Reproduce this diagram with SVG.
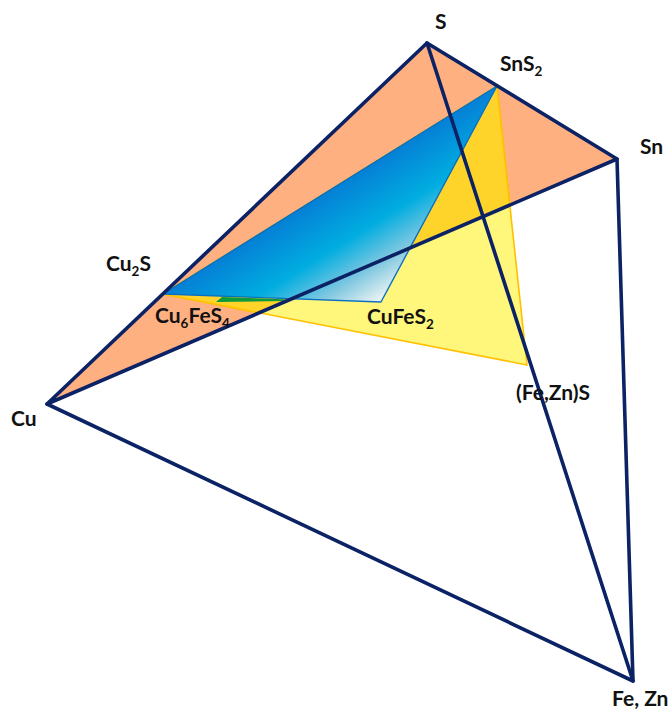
<svg xmlns="http://www.w3.org/2000/svg" width="671" height="710" viewBox="0 0 671 710">
<style>
.t{font-family:Lato,"Liberation Sans",sans-serif;font-weight:700;font-size:21px;fill:#111}
.s{font-size:13.500px}
.e{fill:none;stroke:#0b2265;stroke-width:3.6;stroke-linejoin:round;stroke-linecap:round}
</style>
<defs>
<linearGradient id="b" gradientUnits="userSpaceOnUse" x1="300" y1="209" x2="365" y2="313">
<stop offset="0" stop-color="#0580d6"/><stop offset="0.42" stop-color="#00ade0"/><stop offset="0.72" stop-color="#80c8e0"/><stop offset="1" stop-color="#f5f7f4"/>
</linearGradient>
<clipPath id="o"><polygon points="427,43 617,159 47,404"/></clipPath>
</defs>
<rect width="671" height="710" fill="#fff"/>
<g id="face-orange"><polygon points="427,43 617,159 47,404" fill="#ffb081"/></g>
<g id="face-yellow">
<polygon points="163,294 497,86 527,365" fill="#fff67c" stroke="#ffc000" stroke-width="1.6"/>
<polygon points="163,294 497,86 527,365" fill="#ffd42a" stroke="#ffc000" stroke-width="1.6" clip-path="url(#o)"/>
</g>
<g id="face-blue"><polygon points="163,294 497,86 381,302" fill="url(#b)" stroke="#0b6fc0" stroke-width="1.4" stroke-linejoin="round"/></g>
<g id="face-green"><polygon points="216,302 222,297 289,299.500 287,301" fill="#0c9a3c"/></g>
<g id="connectors">
<path class="e" d="M427,43 L617,159 L47,404 Z"/>
<path class="e" d="M47,404 L633,681 L617,159"/>
<path class="e" d="M427,43 L633,681"/>
</g>
<g id="label-S"><text class="t" x="435" y="29">S</text></g>
<g id="label-SnS2"><text class="t" x="500" y="71">SnS<tspan class="s" dy="5">2</tspan></text></g>
<g id="label-Sn"><text class="t" x="640" y="154">Sn</text></g>
<g id="label-Cu2S"><text class="t" x="106" y="271">Cu<tspan class="s" dy="5">2</tspan><tspan dy="-5">S</tspan></text></g>
<g id="label-Cu6FeS4"><text class="t" x="155" y="323">Cu<tspan class="s" dy="5">6</tspan><tspan dy="-5">FeS</tspan><tspan class="s" dy="5">4</tspan></text></g>
<g id="label-CuFeS2"><text class="t" x="367" y="324">CuFeS<tspan class="s" dy="5">2</tspan></text></g>
<g id="label-FeZnS"><text class="t" x="516" y="400">(Fe,Zn)S</text></g>
<g id="label-Cu"><text class="t" x="11" y="426">Cu</text></g>
<g id="label-FeZn"><text class="t" x="612" y="706">Fe, Zn</text></g>
</svg>
